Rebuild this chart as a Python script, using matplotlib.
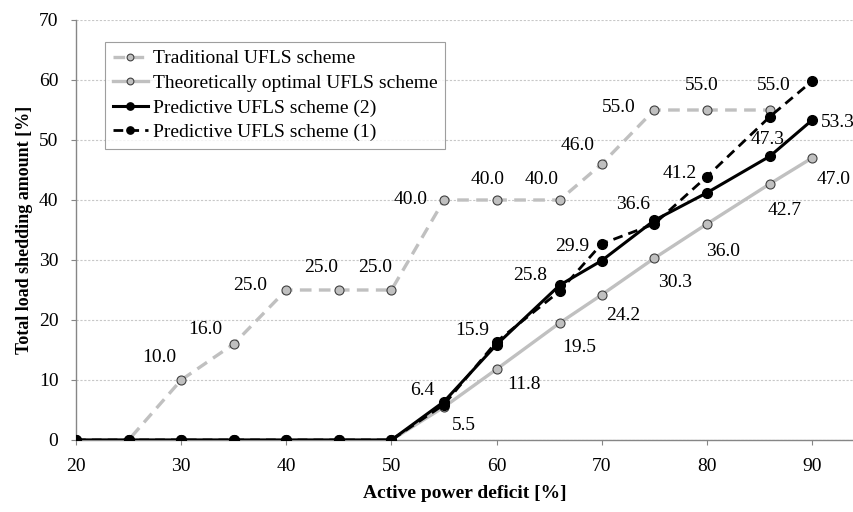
import matplotlib
matplotlib.use("Agg")
import matplotlib.pyplot as plt

# ---- data ----
deficit = [20, 25, 30, 35, 40, 45, 50, 55, 60, 66, 70, 75, 80, 86, 90]
traditional = [0, 0, 10.0, 16.0, 25.0, 25.0, 25.0, 40.0, 40.0, 40.0, 46.0, 55.0, 55.0, 55.0]
theoretical = [0, 0, 0, 0, 0, 0, 0, 5.5, 11.8, 19.5, 24.2, 30.3, 36.0, 42.7, 47.0]
predictive2 = [0, 0, 0, 0, 0, 0, 0, 6.4, 15.9, 25.8, 29.9, 36.6, 41.2, 47.3, 53.3]
predictive1 = [0, 0, 0, 0, 0, 0, 0, 5.9, 16.4, 24.8, 32.7, 36.0, 43.9, 53.9, 59.8]
series_names = ["Traditional UFLS scheme", "Theoretically optimal UFLS scheme",
                "Predictive UFLS scheme (2)", "Predictive UFLS scheme (1)"]
x_ticks = [20, 30, 40, 50, 60, 70, 80, 90]
y_ticks = [0, 10, 20, 30, 40, 50, 60, 70]

# label offsets (pixels) -- styling only
trad_off = {30: (-22, 22), 35: (-28, 15), 40: (-36, 4), 45: (-18, 23), 50: (-16, 23),
            55: (-33, 0), 60: (-9, 21), 66: (-18, 21), 70: (-24, 18), 75: (-36, 3),
            80: (-5, 25), 86: (4, 25)}
theo_off = {55: (20, -18), 60: (27, -15), 66: (20, -24), 70: (22, -21), 75: (21, -24),
            80: (16, -27), 86: (15, -27), 90: (22, -21)}
pred2_off = {55: (-22, 11), 60: (-24, 14), 66: (-30, 10), 70: (-30, 14), 75: (-21, 16),
             80: (-27, 19), 86: (-2, 17), 90: (26, -2)}

plt.rcParams['font.family'] = ['Liberation Serif', 'DejaVu Serif']
FS = 14

fig = plt.figure(figsize=(8.54, 5.12), dpi=100)
ax = fig.add_axes([76 / 854, 1 - 440 / 512, (853 - 76) / 854, 420 / 512])

grey = '#c0c0c0'
edge = '#404040'
ax.plot(deficit[:len(traditional)], traditional, linestyle=(0, (3.5, 2.2)), color=grey, lw=2.4,
        marker='o', ms=6.5, mfc=grey, mec=edge, mew=0.8, label=series_names[0], zorder=3)
ax.plot(deficit, theoretical, '-', color=grey, lw=2.4,
        marker='o', ms=6.5, mfc=grey, mec=edge, mew=0.8, label=series_names[1], zorder=3)
ax.plot(deficit, predictive2, '-', color='black', lw=2.2,
        marker='o', ms=7, mfc='black', mec='black', label=series_names[2], zorder=4)
ax.plot(deficit, predictive1, linestyle=(0, (3.5, 2.2)), color='black', lw=2.0,
        marker='o', ms=7, mfc='black', mec='black', label=series_names[3], zorder=5)

def labels(xs, ys, offs):
    for xv, yv in zip(xs, ys):
        if xv in offs:
            ax.annotate(f"{yv:.1f}", (xv, yv), xytext=offs[xv], textcoords='offset pixels',
                        ha='center', va='center', fontsize=FS, color='black', zorder=6)

labels(deficit, traditional, trad_off)
labels(deficit, theoretical, theo_off)
labels(deficit, predictive2, pred2_off)

ax.set_xlim(20, 93.9)
ax.set_ylim(0, 70)
ax.set_xticks(x_ticks)
ax.set_yticks(y_ticks)
ax.tick_params(axis='both', labelsize=FS, colors='#868686', labelcolor='black', length=3.6, width=0.8)
ax.tick_params(axis='x', pad=9.5)
ax.tick_params(axis='y', pad=9)
ax.grid(axis='y', linestyle=(0, (2, 1.5)), color='#c8c8c8', lw=0.8)
ax.set_axisbelow(True)
for s in ['top', 'right']:
    ax.spines[s].set_visible(False)
for s in ['left', 'bottom']:
    ax.spines[s].set_color('#868686')
    ax.spines[s].set_linewidth(1.0)

ax.set_xlabel("Active power deficit [%]", fontsize=FS, fontweight='bold', labelpad=7)
ax.set_ylabel("Total load shedding amount [%]", fontsize=13, fontweight='bold', labelpad=4)

leg = ax.legend(loc='upper left', bbox_to_anchor=((105 - 76) / 777, (440 - 42) / 420),
                fontsize=FS, frameon=True, fancybox=False, handlelength=1.8,
                handletextpad=0.25, borderpad=0.4, labelspacing=0.36, borderaxespad=0,
                markerscale=0.75)
leg.get_frame().set_edgecolor('#868686')
leg.get_frame().set_linewidth(0.8)

fig.savefig("out.png", dpi=100)
